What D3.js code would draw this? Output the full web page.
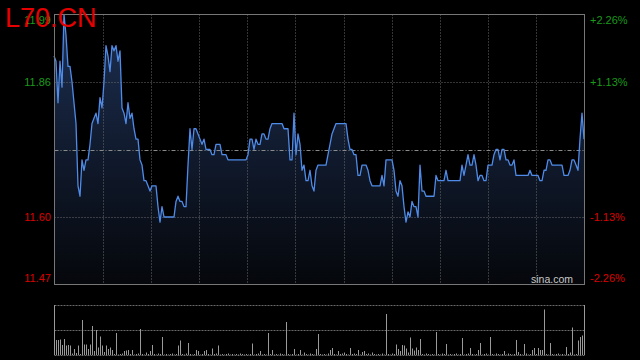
<!DOCTYPE html>
<html>
<head>
<meta charset="utf-8">
<script src="https://cdn.jsdelivr.net/npm/d3@7"></script>
<style>
  html, body { margin: 0; padding: 0; background: #000; }
  svg { display: block; }
  text { font-family: "Liberation Sans", Arial, sans-serif; }
</style>
</head>
<body>
<svg width="640" height="360"></svg>
<script>
const symbol = "L70.CN";
const prevClose = 11.73;

// price ticks (left) and percent labels (right)
const priceTicks = [11.99, 11.86, 11.73, 11.60, 11.47];
const pctTicks = ["+2.26%", "+1.13%", "", "-1.13%", "-2.26%"];

// minute prices
const prices = [
  11.91,11.90,11.82,11.90,11.85,11.99,11.95,11.89,11.89,11.86,
  11.82,11.78,11.66,11.64,11.71,11.69,11.71,11.71,11.74,11.78,
  11.79,11.80,11.78,11.83,11.81,11.86,11.93,11.91,11.88,11.93,
  11.92,11.93,11.90,11.92,11.81,11.80,11.78,11.82,11.79,11.80,
  11.77,11.75,11.75,11.71,11.70,11.67,11.67,11.66,11.65,11.66,
  11.66,11.66,11.62,11.59,11.62,11.60,11.60,11.60,11.60,11.60,
  11.60,11.63,11.64,11.63,11.63,11.62,11.62,11.70,11.77,11.73,
  11.77,11.77,11.76,11.75,11.74,11.75,11.73,11.73,11.73,11.72,
  11.72,11.74,11.74,11.74,11.72,11.72,11.72,11.71,11.71,11.71,
  11.71,11.71,11.71,11.71,11.71,11.71,11.71,11.72,11.75,11.75,
  11.73,11.75,11.74,11.74,11.76,11.76,11.75,11.75,11.77,11.78,
  11.78,11.78,11.78,11.78,11.78,11.77,11.77,11.77,11.71,11.71,
  11.80,11.72,11.76,11.74,11.69,11.70,11.67,11.67,11.69,11.66,
  11.65,11.69,11.70,11.70,11.70,11.70,11.70,11.72,11.74,11.76,
  11.77,11.78,11.78,11.78,11.78,11.78,11.78,11.75,11.73,11.73,
  11.72,11.72,11.68,11.68,11.70,11.70,11.70,11.69,11.67,11.66,
  11.66,11.66,11.66,11.66,11.68,11.66,11.71,11.71,11.71,11.71,
  11.69,11.65,11.64,11.67,11.66,11.62,11.59,11.61,11.60,11.63,
  11.62,11.62,11.60,11.70,11.65,11.65,11.64,11.64,11.64,11.64,
  11.64,11.68,11.67,11.67,11.67,11.67,11.69,11.67,11.67,11.67,
  11.67,11.67,11.67,11.67,11.70,11.68,11.70,11.72,11.70,11.70,
  11.72,11.70,11.67,11.68,11.68,11.67,11.67,11.70,11.70,11.70,
  11.72,11.73,11.73,11.71,11.73,11.73,11.71,11.71,11.70,11.70,
  11.71,11.68,11.68,11.68,11.68,11.68,11.68,11.68,11.69,11.68,
  11.68,11.68,11.68,11.67,11.67,11.69,11.69,11.71,11.71,11.70,
  11.70,11.70,11.70,11.70,11.70,11.68,11.68,11.68,11.69,11.71,
  11.71,11.70,11.69,11.75,11.80,11.75
];

// volume per minute
const volumes = [
  100,30,30,31,20,32,19,20,19,3,
  12,4,19,2,70,21,21,12,21,58,
  8,50,15,37,19,6,19,12,15,10,
  2,44,1,2,3,8,9,10,2,10,
  1,2,3,52,2,1,5,2,8,20,
  2,1,3,2,36,1,2,1,2,3,
  1,2,19,29,2,1,3,24,2,1,
  2,10,8,1,2,8,10,2,1,13,
  2,3,19,1,2,1,2,3,1,2,
  1,2,1,3,2,1,2,1,2,23,
  1,2,3,8,1,2,1,44,2,10,
  1,2,1,3,2,1,66,2,1,2,
  12,1,2,10,1,5,2,1,3,2,
  1,12,42,2,1,2,1,3,10,14,
  2,1,8,2,3,5,2,1,14,2,
  3,2,10,1,6,8,2,3,1,5,
  2,1,2,1,3,1,82,2,1,3,
  2,21,12,8,20,19,13,5,35,13,
  9,15,10,32,2,1,3,2,1,2,
  1,46,2,1,3,2,22,1,2,1,
  2,3,1,2,34,1,2,3,14,2,
  1,2,10,24,1,2,3,1,36,2,
  1,3,2,1,2,8,1,3,2,1,
  2,30,6,2,1,22,3,1,2,10,
  14,2,14,10,10,91,2,1,24,2,
  1,2,3,1,2,1,16,2,5,55,
  1,2,29,36,39,100
];

const svg = d3.select("svg");
const plot = { left: 54.5, right: 584.5, top: 14.5, bottom: 284.5 };
const vol = { top: 305, bottom: 355 };
const gridDivisions = 11;

const xScale = d3.scaleLinear().domain([0, prices.length - 1]).range([54, 584]);
const yScale = d3.scaleLinear().domain([11.47, 11.99]).range([plot.bottom, plot.top]);
const vScale = d3.scaleLinear().domain([0, d3.max(volumes)]).range([vol.bottom, vol.top]);
const gridX = d3.scaleLinear().domain([0, gridDivisions]).range([plot.left, plot.right]);

// gradient under the price line
const grad = svg.append("defs").append("linearGradient")
  .attr("id", "areaFill")
  .attr("gradientUnits", "userSpaceOnUse")
  .attr("x1", 0).attr("x2", 0)
  .attr("y1", plot.top).attr("y2", plot.bottom);
grad.append("stop").attr("offset", 0).attr("stop-color", "#1d2f52");
grad.append("stop").attr("offset", 1).attr("stop-color", "#05070b");

// area + line
svg.append("path")
  .datum(prices)
  .attr("fill", "url(#areaFill)")
  .attr("d", d3.area()
    .x((d, i) => xScale(i))
    .y0(plot.bottom)
    .y1(d => yScale(d)));

// grid: verticals
const vLines = d3.range(1, gridDivisions);
svg.append("g").selectAll("line").data(vLines).enter().append("line")
  .attr("x1", d => Math.round(gridX(d)) + 0.5)
  .attr("x2", d => Math.round(gridX(d)) + 0.5)
  .attr("y1", plot.top).attr("y2", plot.bottom)
  .attr("stroke", "#6a6a6a")
  .attr("stroke-dasharray", "1,2");

// grid: horizontals
svg.append("g").selectAll("line").data(priceTicks.slice(1, -1)).enter().append("line")
  .attr("x1", plot.left).attr("x2", plot.right)
  .attr("y1", d => Math.round(yScale(d)) + 0.5)
  .attr("y2", d => Math.round(yScale(d)) + 0.5)
  .attr("stroke", d => d === prevClose ? "#8a8a8a" : "#6a6a6a")
  .attr("stroke-dasharray", d => d === prevClose ? "4,2,1,2" : "1,2");

svg.append("path")
  .datum(prices)
  .attr("fill", "none")
  .attr("stroke", "#4f8be8")
  .attr("stroke-width", 1.3)
  .attr("stroke-linejoin", "round")
  .attr("d", d3.line()
    .x((d, i) => xScale(i))
    .y(d => yScale(d)));

// frame
svg.append("rect")
  .attr("x", plot.left).attr("y", plot.top)
  .attr("width", plot.right - plot.left)
  .attr("height", plot.bottom - plot.top)
  .attr("fill", "none")
  .attr("stroke", "#777");

// left price labels
const clampY = v => Math.max(20, Math.min(278.5, yScale(v)));
const tickColor = v => v > prevClose ? "#1a9a1a" : "#dd0000";
svg.append("g").selectAll("text").data(priceTicks.filter(d => d !== prevClose)).enter().append("text")
  .attr("x", 51)
  .attr("y", d => clampY(d))
  .attr("dy", "0.36em")
  .attr("text-anchor", "end")
  .attr("font-size", 11)
  .attr("fill", d => tickColor(d))
  .text(d => d.toFixed(2));

// right percent labels
svg.append("g").selectAll("text").data(priceTicks.map((d, i) => ({ v: d, t: pctTicks[i] })).filter(d => d.t)).enter().append("text")
  .attr("x", 590)
  .attr("y", d => clampY(d.v))
  .attr("dy", "0.36em")
  .attr("font-size", 11)
  .attr("fill", d => tickColor(d.v))
  .text(d => d.t);

// watermark
svg.append("text")
  .attr("x", 573).attr("y", 283)
  .attr("text-anchor", "end")
  .attr("font-size", 10.5)
  .attr("fill", "#c8c8c8")
  .text("sina.com");

// volume panel
svg.append("g").selectAll("line").data([vol.top, (vol.top + vol.bottom) / 2, vol.bottom]).enter().append("line")
  .attr("x1", plot.left).attr("x2", plot.right)
  .attr("y1", d => d + 0.5).attr("y2", d => d + 0.5)
  .attr("stroke", "#6a6a6a")
  .attr("stroke-dasharray", "2,1");

svg.append("g").selectAll("line").data(volumes).enter().append("line")
  .attr("x1", (d, i) => Math.round(xScale(i)) + 0.5)
  .attr("x2", (d, i) => Math.round(xScale(i)) + 0.5)
  .attr("y1", vol.bottom)
  .attr("y2", d => vScale(d))
  .attr("stroke", "#9a9a9a");

// title
svg.append("text")
  .attr("x", 5).attr("y", 27)
  .attr("font-size", 27)
  .attr("fill", "#e60000")
  .text(symbol);
</script>
</body>
</html>
